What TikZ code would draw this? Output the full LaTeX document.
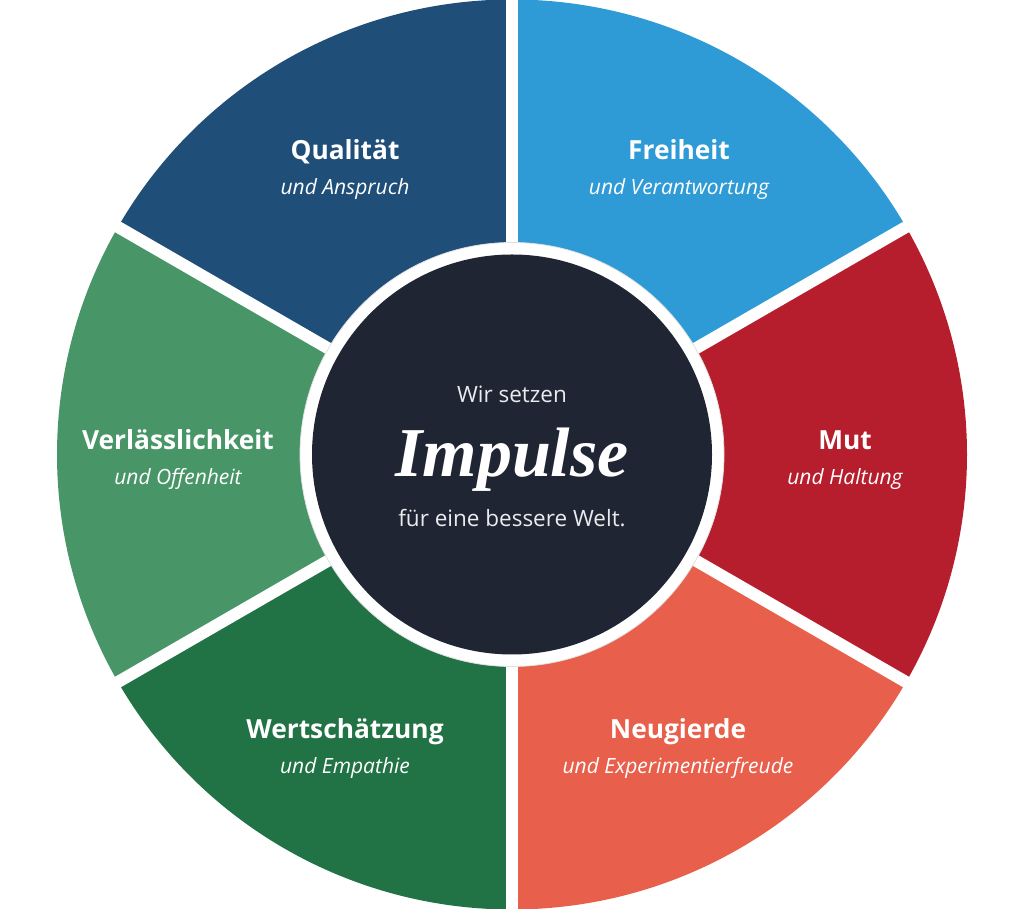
\documentclass[tikz,border=0pt]{standalone}
\usepackage{fontspec}
\setmainfont{Open Sans}
\newfontfamily\impfont{Liberation Serif}
\definecolor{cQual}{RGB}{31,78,121}
\definecolor{cFrei}{RGB}{47,155,214}
\definecolor{cMut}{RGB}{183,30,45}
\definecolor{cNeu}{RGB}{232,96,76}
\definecolor{cWert}{RGB}{33,115,70}
\definecolor{cVerl}{RGB}{72,150,104}
\definecolor{cCenter}{RGB}{31,37,50}
\definecolor{cText}{RGB}{232,236,239}
\begin{document}
\begin{tikzpicture}[x=1pt,y=1pt,
  gapline/.style={white,line width=12pt},
  title/.style={text=white,font=\bfseries\fontsize{26.3}{31}\selectfont,anchor=base,inner sep=0pt},
  sub/.style={text=white,font=\itshape\fontsize{21}{25}\selectfont,anchor=base,inner sep=0pt},
  ctext/.style={text=cText,font=\fontsize{22.5}{27}\selectfont,anchor=base,inner sep=0pt}]
\useasboundingbox (0,0) rectangle (1024,909);
\coordinate (C) at (512,454.5);
% sectors
\fill[cFrei] (C) -- ++(30:455) arc[start angle=30,end angle=90,radius=455] -- cycle;
\fill[cQual] (C) -- ++(90:455) arc[start angle=90,end angle=150,radius=455] -- cycle;
\fill[cVerl] (C) -- ++(150:455) arc[start angle=150,end angle=210,radius=455] -- cycle;
\fill[cWert] (C) -- ++(210:455) arc[start angle=210,end angle=270,radius=455] -- cycle;
\fill[cNeu] (C) -- ++(270:455) arc[start angle=270,end angle=330,radius=455] -- cycle;
\fill[cMut] (C) -- ++(330:455) arc[start angle=330,end angle=390,radius=455] -- cycle;
% gaps
\foreach \a in {30,90,150,210,270,330}{
  \draw[gapline] (C) -- ++(\a:462);
}
% center
\fill[white] (C) circle[radius=212];
\draw[black!12,line width=0.8pt] (C) circle[radius=212];
\fill[cCenter] (C) circle[radius=200];
% labels
\node[title] (qual) at (345,749) {Qualität};
\node[sub] (qualS) at (345,714) {und Anspruch};
\node[title] (frei) at (679,749) {Freiheit};
\node[sub] (freiS) at (679,714) {und Verantwortung};
\node[title] (verl) at (178,459) {Verlässlichkeit};
\node[sub] (verlS) at (178,424) {und Offenheit};
\node[title] (mut) at (845,459) {Mut};
\node[sub] (mutS) at (845,424) {und Haltung};
\node[title] (wert) at (345,170) {Wertschätzung};
\node[sub] (wertS) at (345,135) {und Empathie};
\node[title] (neu) at (678,170) {Neugierde};
\node[sub] (neuS) at (678,135) {und Experimentierfreude};
% center text
\node[ctext] (wir) at (512,506) {Wir setzen};
\node[text=white,font=\impfont\bfseries\itshape\fontsize{70}{74}\selectfont,anchor=base,inner sep=0pt] (imp) at (512,432) {Impulse};
\node[ctext] (fuer) at (512,382) {für eine bessere Welt.};
\end{tikzpicture}
\end{document}
